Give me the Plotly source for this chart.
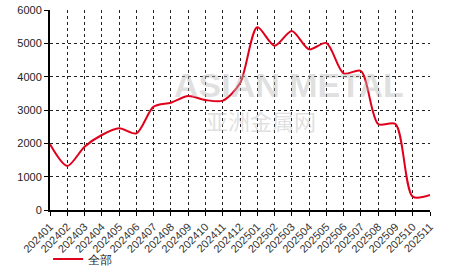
import plotly.graph_objects as go

months = ["202401","202402","202403","202404","202405","202406","202407","202408",
          "202409","202410","202411","202412","202501","202502","202503","202504",
          "202505","202506","202507","202508","202509","202510","202511"]
values = [1970, 1320, 1900, 2250, 2450, 2300, 3100, 3220, 3420, 3300, 3280, 3800,
          5480, 4930, 5370, 4820, 5010, 4100, 4170, 2580, 2580, 400, 450]
series_name = "全部"
y_ticks = [0, 1000, 2000, 3000, 4000, 5000, 6000]

fig = go.Figure()
fig.add_trace(go.Scatter(
    x=months, y=values, mode="lines", name=series_name,
    line=dict(color="#e0001b", width=2, shape="spline", smoothing=0.8),
))

fig.add_annotation(text="<b>ASIAN METAL</b>", x=0.63, y=0.625, xref="paper", yref="paper",
                   showarrow=False, font=dict(size=34, color="rgba(185,185,185,0.45)",
                                              family="Arial, Liberation Sans"))
fig.add_annotation(text="亚洲金属网", x=0.705, y=0.45, xref="paper", yref="paper",
                   showarrow=False, font=dict(size=22, color="rgba(185,185,185,0.45)",
                                              family="Noto Sans CJK SC"))

fig.update_layout(
    width=466, height=272,
    margin=dict(l=50, r=36, t=10, b=62, autoexpand=False),
    paper_bgcolor="white", plot_bgcolor="white",
    font=dict(family="Arial, Liberation Sans", size=11, color="#222"),
    showlegend=True,
    legend=dict(orientation="h", x=-0.005, y=-0.245, xref="paper", yref="paper",
                xanchor="left", yanchor="middle",
                font=dict(size=12, color="#222"), bgcolor="rgba(0,0,0,0)"),
    xaxis=dict(
        type="category", tickangle=-45, showgrid=True, gridcolor="#222",
        griddash="dot", gridwidth=1, showline=True, linecolor="black", linewidth=2,
        ticks="outside", ticklen=4, tickcolor="black", range=[0, 22],
        tickfont=dict(size=11, color="#333"), automargin=False,
    ),
    yaxis=dict(
        range=[0, 6000], tickvals=y_ticks, showgrid=True, gridcolor="#222",
        griddash="dot", gridwidth=1, showline=True, linecolor="black", linewidth=2,
        ticks="outside", ticklen=4, tickcolor="black", zeroline=False,
        tickfont=dict(size=11, color="#222"), automargin=False,
    ),
)

fig.write_html("out.html")
